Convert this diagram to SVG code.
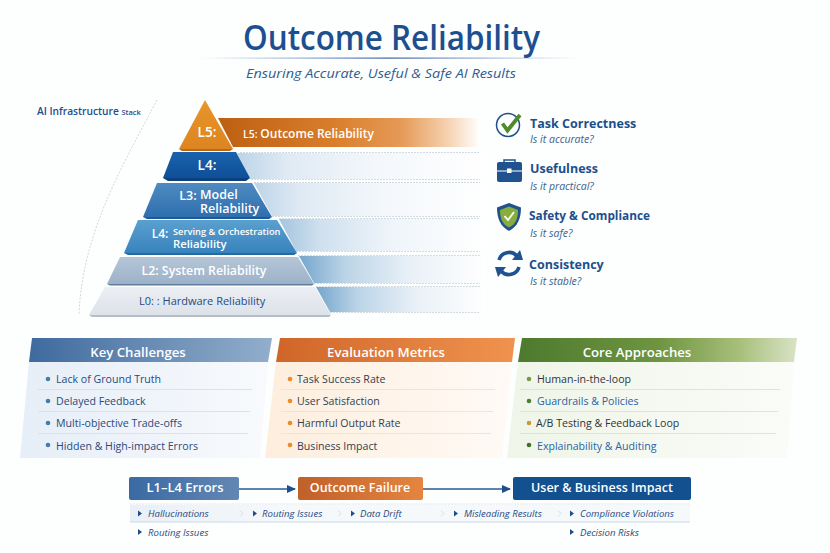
<svg xmlns="http://www.w3.org/2000/svg" width="830" height="553" viewBox="0 0 830 553">
<style>
text{font-family:"Open Sans","Noto Sans","Liberation Sans",sans-serif}
.py{fill:#fff;font-weight:600;text-anchor:middle}
.hd{fill:#fff;font-size:13.200px;font-weight:600;text-anchor:middle}
.it{font-size:10.600px;fill:#2a4a7a}
.tt{font-size:12.500px;font-weight:700;fill:#1d4f8c}
.st{font-size:10.500px;font-style:italic;fill:#3a628f}
.fb{fill:#fff;font-size:12.500px;font-weight:600;text-anchor:middle}
.fi{font-size:9.600px;font-style:italic;fill:#1f4a82}
.sep{stroke:#d5dde4;stroke-width:.8;fill:none}
.tri{fill:#1f4f8a}
.chev{fill:none;stroke:#d6dde4;stroke-width:1}
.edge{stroke:#d3dbe2;stroke-width:1;stroke-dasharray:2 1;fill:none}
</style>
<defs>
<linearGradient id="bandA" x1="0" x2="1" y1="0" y2="0"><stop offset="0" stop-color="#bcd4e8"/><stop offset=".2" stop-color="#dfeaf4"/><stop offset=".55" stop-color="#f3f7fb"/><stop offset="1" stop-color="#fff"/></linearGradient>
<linearGradient id="bandB" x1="0" x2="1" y1="0" y2="0"><stop offset="0" stop-color="#a4c4de"/><stop offset=".2" stop-color="#cfe0ee"/><stop offset=".55" stop-color="#eff5fa"/><stop offset="1" stop-color="#fff"/></linearGradient>
<linearGradient id="bandD" x1="0" x2="1" y1="0" y2="0"><stop offset="0" stop-color="#74a6cc"/><stop offset=".25" stop-color="#bcd4e7"/><stop offset=".6" stop-color="#e9f1f7"/><stop offset="1" stop-color="#fff"/></linearGradient>
<linearGradient id="bandO" x1="0" x2="1" y1="0" y2="0"><stop offset="0" stop-color="#bd5f12"/><stop offset=".45" stop-color="#d97f2c"/><stop offset=".7" stop-color="#e59a57"/><stop offset=".88" stop-color="#f5d3b2"/><stop offset="1" stop-color="#fff"/></linearGradient>
<linearGradient id="rule" x1="0" x2="1" y1="0" y2="0"><stop offset="0" stop-color="#5b7fb5" stop-opacity="0"/><stop offset=".5" stop-color="#3f62a8"/><stop offset="1" stop-color="#5b7fb5" stop-opacity="0"/></linearGradient>
<linearGradient id="flowBand" x1="0" x2="1" y1="0" y2="0"><stop offset="0" stop-color="#eaf0f7"/><stop offset=".3" stop-color="#f6f9fc"/><stop offset="1" stop-color="#f6f9fc"/></linearGradient>
<linearGradient id="p5" x1="0" x2="0" y1="0" y2="1"><stop offset="0" stop-color="#e9962a"/><stop offset="1" stop-color="#dd8420"/></linearGradient>
<linearGradient id="p4" x1="0" x2="0" y1="0" y2="1"><stop offset="0" stop-color="#1a62ad"/><stop offset="1" stop-color="#0e4f98"/></linearGradient>
<linearGradient id="p3" x1="0" x2="0" y1="0" y2="1"><stop offset="0" stop-color="#4f8bc1"/><stop offset="1" stop-color="#2e6faf"/></linearGradient>
<linearGradient id="p2" x1="0" x2="0" y1="0" y2="1"><stop offset="0" stop-color="#5aa0d0"/><stop offset="1" stop-color="#3883bd"/></linearGradient>
<linearGradient id="p1" x1="0" x2="0" y1="0" y2="1"><stop offset="0" stop-color="#b6c6d8"/><stop offset="1" stop-color="#9cb1c8"/></linearGradient>
<linearGradient id="p0" x1="0" x2="0" y1="0" y2="1"><stop offset="0" stop-color="#eceff3"/><stop offset="1" stop-color="#dde2e9"/></linearGradient>
<linearGradient id="hB" x1="0" x2="1" y1="0" y2="0"><stop offset="0" stop-color="#3f6a9e"/><stop offset="1" stop-color="#92aecb"/></linearGradient>
<linearGradient id="hO" x1="0" x2="1" y1="0" y2="0"><stop offset="0" stop-color="#cf6628"/><stop offset="1" stop-color="#f0934f"/></linearGradient>
<linearGradient id="hG" x1="0" x2="1" y1="0" y2="0"><stop offset="0" stop-color="#4d7a2e"/><stop offset=".5" stop-color="#6e9440"/><stop offset=".8" stop-color="#a9c07c"/><stop offset="1" stop-color="#d9e3c6"/></linearGradient>
<linearGradient id="bB" x1="0" x2="1" y1="0" y2="0"><stop offset="0" stop-color="#e6eef7"/><stop offset="1" stop-color="#f8fafd"/></linearGradient>
<linearGradient id="bO" x1="0" x2="1" y1="0" y2="0"><stop offset="0" stop-color="#fdeedd"/><stop offset="1" stop-color="#fffaf6"/></linearGradient>
<linearGradient id="bG" x1="0" x2="1" y1="0" y2="0"><stop offset="0" stop-color="#eff5e8"/><stop offset="1" stop-color="#fafcf8"/></linearGradient>
<linearGradient id="fL" x1="0" x2="1" y1="0" y2="0"><stop offset="0" stop-color="#3a6aa3"/><stop offset="1" stop-color="#6387b3"/></linearGradient>
<linearGradient id="fO" x1="0" x2="1" y1="0" y2="0"><stop offset="0" stop-color="#c0602a"/><stop offset="1" stop-color="#e58540"/></linearGradient>
<marker id="arr" markerWidth="9" markerHeight="9" refX="8" refY="4" orient="auto" markerUnits="userSpaceOnUse"><path d="M0 0L9 4L0 8Z" fill="#1f4f8a"/></marker>
</defs>
<rect width="830" height="553" fill="#fdfefe"/>

<g id="title">
<text x="243" y="50" font-size="34" font-weight="600" fill="#1c4f8f" textLength="297" lengthAdjust="spacingAndGlyphs">Outcome Reliability</text>
<rect x="200" y="57.500" width="380" height="1.200" fill="url(#rule)"/>
<text x="246" y="78" font-size="13.500" font-style="italic" fill="#2f5c92" textLength="270" lengthAdjust="spacingAndGlyphs">Ensuring Accurate, Useful &amp; Safe AI Results</text>
</g>

<g id="stack-label">
<text x="37" y="115" font-size="10.200" font-weight="600" fill="#1d4f8c">AI Infrastructure <tspan font-size="7.500">Stack</tspan></text>
<path d="M157 100C120 170 82 235 79 315" fill="none" stroke="#c6ccd2" stroke-width=".8" stroke-dasharray="2 1.500"/>
</g>

<g id="bands">
<polygon points="218,118 480,118 480,147 233,147" fill="url(#bandO)"/>
<polygon points="237,153 485,153 485,179 250,179" fill="url(#bandA)"/>
<polygon points="254,183 485,183 485,216 272,216" fill="url(#bandA)"/>
<polygon points="279,219 485,219 485,251 296,251" fill="url(#bandB)"/>
<polygon points="299,256 485,256 485,283 314,283" fill="url(#bandD)"/>
<polygon points="316,287 485,287 485,312 330,312" fill="url(#bandD)"/>
<path class="edge" d="M240 152.500H480M251 179.500H480M254 182.500H480M272 216.500H480M279 218.500H480M296 251.500H480M298 255.500H480M314 283.500H480M316 286.500H480M330 312.500H480"/>
</g>

<g id="layer-L5">
<polygon points="205,100 233,149 179,149" fill="url(#p5)"/>
<polygon points="179,149 233,149 230,151 182,151" fill="#b5691a"/>
<text class="py" x="207" y="137" font-size="13.500">L5:</text>
<text x="243" y="138" font-size="10.500" font-weight="600" fill="#fff">L5: <tspan font-size="12">Outcome Reliability</tspan></text>
</g>
<g id="layer-L4-top">
<polygon points="173,152 236,152 250,178 163,178" fill="url(#p4)"/>
<polygon points="163,178 250,178 246,181 168,181" fill="#0b3f7e"/>
<text class="py" x="207" y="170" font-size="13.500">L4:</text>
</g>
<g id="layer-L3">
<polygon points="157,183 252,183 272,217 143,217" fill="url(#p3)"/>
<polygon points="143,217 272,217 269,219 147,219" fill="#1f5a96"/>
<text class="py" x="188" y="200" font-size="12.500">L3:</text>
<text x="200" y="199" font-size="12.500" font-weight="600" fill="#fff">Model</text>
<text x="200" y="213" font-size="12.500" font-weight="600" fill="#fff">Reliability</text>
</g>
<g id="layer-L4-serving">
<polygon points="138,220 277,220 297,253 124,253" fill="url(#p2)"/>
<polygon points="124,253 297,253 294,255 128,255" fill="#256a9e"/>
<text class="py" x="160" y="238" font-size="12">L4:</text>
<text x="173" y="235" font-size="9.300" font-weight="600" fill="#fff">Serving &amp; Orchestration</text>
<text x="173" y="248" font-size="11.300" font-weight="600" fill="#fff">Reliability</text>
</g>
<g id="layer-L2">
<polygon points="120,257 298,257 314,284 107,284" fill="url(#p1)"/>
<polygon points="107,284 314,284 312,285.500 110,285.500" fill="#5f7d9e"/>
<text class="py" x="204" y="275" font-size="12.300">L2: System Reliability</text>
</g>
<g id="layer-L0">
<polygon points="105,287 315,287 331,315 89,315" fill="url(#p0)"/>
<polygon points="89,315 331,315 329,317 92,317" fill="#b4bcc6"/>
<text x="139" y="305" font-size="11" fill="#254a86" font-weight="500">L0: : Hardware Reliability</text>
</g>

<g id="task-correctness">
<circle cx="508" cy="125" r="11.500" fill="none" stroke="#1f4f8a" stroke-width="1.500"/>
<path d="M502.500 123.500L507.500 130.500L520 115" fill="none" stroke="#4f8a2c" stroke-width="3.800"/>
<text class="tt" x="530" y="128">Task Correctness</text>
<text class="st" x="530" y="143">Is it accurate?</text>
</g>
<g id="usefulness">
<rect x="497" y="162" width="25" height="20" rx="2" fill="#1f528f"/>
<path d="M504 162V160H515V162" fill="none" stroke="#1f528f" stroke-width="1.500"/>
<rect x="497" y="170.500" width="25" height="1" fill="#fff"/>
<rect x="507" y="168.500" width="4.500" height="4.500" fill="#fff"/>
<text class="tt" x="530" y="173">Usefulness</text>
<text class="st" x="530" y="190">Is it practical?</text>
</g>
<g id="safety-compliance">
<path d="M509 203L521 207.500C521 218 518 226 509 231C500 226 497 218 497 207.500Z" fill="#1f528f"/>
<path d="M509 206.500L518 210C518 218 516 224 509 227.500C502 224 500 218 500 210Z" fill="#86ad3e"/>
<path d="M504.500 216L508 220L514 212" fill="none" stroke="#fff" stroke-width="1.800"/>
<text class="tt" x="529" y="220" textLength="121" lengthAdjust="spacingAndGlyphs">Safety &amp; Compliance</text>
<text class="st" x="530" y="237">Is it safe?</text>
</g>
<g id="consistency">
<path d="M499 260A10.500 10.500 0 0 1 517 256" fill="none" stroke="#1f528f" stroke-width="3.600"/>
<path d="M519 267A10.500 10.500 0 0 1 501 271" fill="none" stroke="#1f528f" stroke-width="3.600"/>
<path d="M512 260L523 260L520 250Z" fill="#1f528f"/>
<path d="M506 267L495 267L498 277Z" fill="#1f528f"/>
<text class="tt" x="529" y="269">Consistency</text>
<text class="st" x="530" y="285">Is it stable?</text>
</g>

<g id="key-challenges">
<polygon points="29,362 268,362 260,458 20,458" fill="url(#bB)"/>
<polygon points="32,338 272,338 268,362 29,362" fill="url(#hB)"/>
<text class="hd" x="138" y="357">Key Challenges</text>
<path class="sep" d="M38 389.500H252M38 411.500H250M38 433.500H248"/>
<g fill="#4a7ba8"><circle cx="48" cy="379" r="2.300"/><circle cx="48" cy="401" r="2.300"/><circle cx="48" cy="423" r="2.300"/><circle cx="48" cy="445" r="2.300"/></g>
<text class="it" x="56" y="383">Lack of Ground Truth</text>
<text class="it" x="56" y="405">Delayed Feedback</text>
<text class="it" x="56" y="427">Multi-objective Trade-offs</text>
<text class="it" x="56" y="450">Hidden &amp; High-impact Errors</text>
</g>
<g id="evaluation-metrics">
<polygon points="276,362 512,362 502,458 265,458" fill="url(#bO)"/>
<polygon points="280,338 515,338 512,362 276,362" fill="url(#hO)"/>
<text class="hd" x="386" y="357">Evaluation Metrics</text>
<path class="sep" d="M281 389.500H495M281 411.500H493M281 433.500H491" style="stroke:#eadfd5"/>
<g fill="#ec8b28"><circle cx="290" cy="379" r="2.300"/><circle cx="290" cy="401" r="2.300"/><circle cx="290" cy="423" r="2.300"/><circle cx="290" cy="445" r="2.300"/></g>
<text class="it" x="297" y="383" style="fill:#333f52">Task Success Rate</text>
<text class="it" x="297" y="405" style="fill:#333f52">User Satisfaction</text>
<text class="it" x="297" y="427" style="fill:#333f52">Harmful Output Rate</text>
<text class="it" x="297" y="450" style="fill:#333f52">Business Impact</text>
</g>
<g id="core-approaches">
<polygon points="518,362 794,362 787,458 507,458" fill="url(#bG)"/>
<polygon points="522,338 797,338 794,362 518,362" fill="url(#hG)"/>
<text class="hd" x="637" y="357">Core Approaches</text>
<path class="sep" d="M520 389.500H780M520 411.500H778M520 433.500H776"/>
<circle cx="529" cy="379" r="2.300" fill="#7a9a45"/><circle cx="529" cy="401" r="2.300" fill="#4f7d33"/><circle cx="529" cy="423" r="2.300" fill="#c79a33"/><circle cx="529" cy="445" r="2.300" fill="#41702a"/>
<text class="it" x="537" y="383" style="fill:#2c3440">Human-in-the-loop</text>
<text class="it" x="537" y="405" style="fill:#2a62a8">Guardrails &amp; Policies</text>
<text class="it" x="536" y="427" style="fill:#2c3440">A/B Testing &amp; Feedback Loop</text>
<text class="it" x="537" y="450" style="fill:#2a62a8">Explainability &amp; Auditing</text>
</g>

<g id="flow-rules">
<rect x="130" y="505" width="560" height="17" fill="url(#flowBand)"/>
<path d="M130 504H690" stroke="#d8dfe6" stroke-width=".8" stroke-dasharray="2 1"/>
<path d="M130 522H690" stroke="#bfd2e4" stroke-width=".8"/>
</g>
<g id="flow-errors">
<rect x="129" y="477" width="110" height="23" rx="2" fill="url(#fL)"/>
<text class="fb" x="185" y="492" textLength="77" lengthAdjust="spacingAndGlyphs">L1–L4 Errors</text>
<path class="tri" d="M138 510.500L142 513.500L138 516.500Z"/>
<text class="fi" x="148" y="517">Hallucinations</text>
<path class="tri" d="M138 529L142 532L138 535Z"/>
<text class="fi" x="148" y="536">Routing Issues</text>
<path class="chev" d="M240 510.500L243 513.500L240 516.500"/>
<path class="tri" d="M253 510.500L257 513.500L253 516.500Z"/>
<text class="fi" x="262" y="517">Routing Issues</text>
<path class="chev" d="M338 510.500L341 513.500L338 516.500"/>
<path class="tri" d="M351 510.500L355 513.500L351 516.500Z"/>
<text class="fi" x="360" y="517">Data Drift</text>
</g>
<g id="flow-outcome">
<rect x="298" y="477" width="125" height="23" rx="2" fill="url(#fO)"/>
<text class="fb" x="360" y="492">Outcome Failure</text>
<path class="chev" d="M441 510.500L444 513.500L441 516.500"/>
<path class="tri" d="M454 510.500L458 513.500L454 516.500Z"/>
<text class="fi" x="464" y="517">Misleading Results</text>
</g>
<g id="flow-impact">
<rect x="513" y="477" width="178" height="23" rx="2" fill="#12508f"/>
<text class="fb" x="602" y="492">User &amp; Business Impact</text>
<path class="chev" d="M558 510.500L561 513.500L558 516.500"/>
<path class="tri" d="M570 510.500L574 513.500L570 516.500Z"/>
<text class="fi" x="580" y="517">Compliance Violations</text>
<path class="tri" d="M570 529L574 532L570 535Z"/>
<text class="fi" x="580" y="536">Decision Risks</text>
</g>
<g id="connectors" fill="none" stroke="#2a5a94" stroke-width="1.300">
<path d="M239 489H295" marker-end="url(#arr)"/>
<path d="M423 489H510" marker-end="url(#arr)"/>
</g>
</svg>
